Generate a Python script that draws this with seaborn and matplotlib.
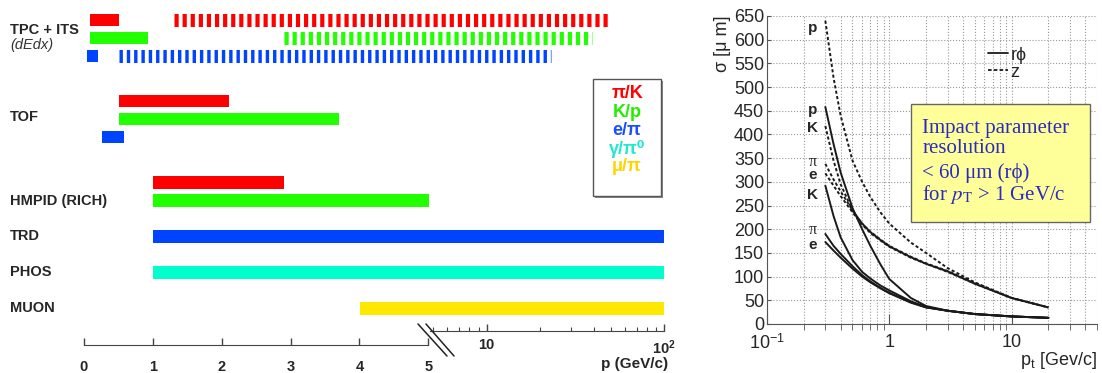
import numpy as np
import pandas as pd
import seaborn as sns
import matplotlib.pyplot as plt
from matplotlib.patches import Rectangle
from matplotlib.lines import Line2D
import matplotlib.transforms as mtransforms

# 左图：各探测器的粒子鉴别动量范围 (GeV/c)
detectors = ['TPC + ITS', 'TOF', 'HMPID (RICH)', 'TRD', 'PHOS', 'MUON']
pairs = ['π/K', 'K/p', 'e/π', 'γ/π⁰', 'μ/π']
bar_detector = ['TPC + ITS'] * 6 + ['TOF'] * 3 + ['HMPID (RICH)'] * 2 + ['TRD', 'PHOS', 'MUON']
bar_pair = ['π/K', 'π/K', 'K/p', 'K/p', 'e/π', 'e/π',
            'π/K', 'K/p', 'e/π',
            'π/K', 'K/p',
            'e/π', 'γ/π⁰', 'μ/π']
bar_pmin = [0.08, 1.3, 0.08, 2.9, 0.04, 0.5, 0.5, 0.5, 0.26, 1.0, 1.0, 1.0, 1.0, 4.0]
bar_pmax = [0.5, 48, 0.93, 39, 0.2, 23, 2.1, 3.7, 0.58, 2.9, 5.0, 100, 100, 100]
bar_dashed = [False, True, False, True, False, True,
              False, False, False, False, False, False, False, False]

# 右图：碰撞参数分辨率 σ (μm) vs pt (GeV/c)
pt = [0.3, 0.35, 0.4, 0.5, 0.6, 0.7, 0.85, 1.0, 1.5, 2, 3, 5, 10, 20]
rphi_p = [458, 380, 320, 245, 200, 165, 125, 95, 55, 38, 28, 21, 16, 13]
rphi_K = [292, 228, 183, 135, 110, 96, 81, 71, 48, 36, 28, 21, 16, 13]
rphi_pi = [190, 165, 148, 122, 103, 90, 76, 66, 46, 35, 28, 21, 16, 13]
rphi_e = [173, 155, 140, 117, 100, 88, 75, 65, 45, 35, 28, 21, 16, 13]
z_p = [640, 520, 440, 345, 300, 268, 235, 212, 172, 150, 118, 88, 55, 35]
z_K = [418, 345, 295, 240, 212, 195, 178, 165, 142, 128, 112, 86, 55, 35]
z_pi = [338, 305, 280, 240, 212, 194, 177, 164, 141, 127, 111, 85, 55, 35]
z_e = [318, 292, 270, 236, 210, 192, 176, 163, 140, 127, 110, 85, 55, 35]

# 样式
pair_colors = {'π/K': '#FF0000', 'K/p': '#22FF00', 'e/π': '#0044FF',
               'γ/π⁰': '#00FFCC', 'μ/π': '#FFE800'}
pair_text_colors = {'π/K': '#FF0000', 'K/p': '#22EE00', 'e/π': '#1A4FFF',
                    'γ/π⁰': '#22E8D0', 'μ/π': '#FFD400'}
bar_row = [0, 0, 1, 1, 2, 2, 4.5, 5.5, 6.5, 9.05, 10.05, 12.05, 14.05, 16.05]
label_row = {'TPC + ITS': 0.55, 'TOF': 5.4, 'HMPID (RICH)': 10.08,
             'TRD': 12.0, 'PHOS': 14.0, 'MUON': 16.0}

sns.set_style('white')
plt.rcParams['font.family'] = ['Liberation Sans', 'DejaVu Sans']
plt.rcParams['mathtext.fontset'] = 'stix'

W, H = 1102, 373
fig = plt.figure(figsize=(W / 100, H / 100), dpi=100)


def px_rect(x0, y0, x1, y1):
    return [x0 / W, 1 - y1 / H, (x1 - x0) / W, (y1 - y0) / H]


# 线性 0-5 加对数 5-100 的拼接坐标
PX_UNIT = 69.0
K_DEC = 177.6 / PX_UNIT
OFF = (433.2 - 84) / PX_UNIT


def fwd(x):
    x = np.asarray(x, float)
    lx = np.log10(np.clip(x, 1e-9, None))
    return np.where(x <= 5, x, OFF + K_DEC * (lx - np.log10(5)))


def inv(u):
    u = np.asarray(u, float)
    return np.where(u <= 5, u,
                    np.where(u < OFF, 5.0, 10 ** ((np.maximum(u, OFF) - OFF) / K_DEC + np.log10(5))))


ax = fig.add_axes(px_rect(84, 0, 664.3, 322))
ax.set_xscale('function', functions=(fwd, inv))
ax.set_xlim(0, 100)
ax.set_ylim(16.78, -1.111)
ax.axis('off')

for det, pr, lo, hi, dsh, r in zip(bar_detector, bar_pair, bar_pmin, bar_pmax, bar_dashed, bar_row):
    c = pair_colors[pr]
    if dsh:
        pat = (0, (0.26, 0.30)) if pr == 'e/π' else (0, (0.32, 0.30))
        lc = ax.hlines(r, lo, hi, colors=c, linewidth=9.4, linestyles=[pat])
        lc.set_capstyle('butt')
    else:
        ax.barh(r, hi - lo, left=lo, height=0.72, color=c, linewidth=0)

lab_tr = mtransforms.blended_transform_factory(fig.transFigure, ax.transData)
for det in detectors:
    ax.text(10 / W, label_row[det], det, transform=lab_tr, fontsize=10.5,
            fontweight='bold', va='center', ha='left')
ax.text(10 / W, 1.4, '(dEdx)', transform=lab_tr, fontsize=10.5,
        fontstyle='italic', va='center', ha='left', color='#333333')

# 粒子对图例框
fig.add_artist(Rectangle((595 / W, 1 - 198 / H), 68 / W, 117 / H, transform=fig.transFigure,
                         fc='#888888', ec='none'))
fig.add_artist(Rectangle((593 / W, 1 - 196 / H), 68 / W, 117 / H, transform=fig.transFigure,
                         fc='white', ec='#555555', lw=1))
for i, pr in enumerate(pairs):
    fig.text(627 / W, 1 - (94 + 18.2 * i) / H, pr, color=pair_text_colors[pr],
             fontsize=13, fontweight='bold', ha='center', va='center',
             family=['Liberation Sans', 'DejaVu Sans'])

# 底部坐标轴：线性段
ax_lin = fig.add_axes(px_rect(84, 335, 428.3, 345))
ax_lin.set_xlim(0, 5)
ax_lin.set_xticks(range(6))
ax_lin.set_yticks([])
for s in ['left', 'right', 'top']:
    ax_lin.spines[s].set_visible(False)
ax_lin.spines['bottom'].set_color('#444444')
ax_lin.patch.set_alpha(0)
ax_lin.tick_params(axis='x', direction='in', length=5, width=1, color='#444444',
                   pad=11, labelsize=10.5, bottom=True)
for t in ax_lin.get_xticklabels():
    t.set_fontweight('bold')

# 底部坐标轴：对数段
ax_log = fig.add_axes(px_rect(430, 321, 664.3, 331))
ax_log.set_xscale('log')
ax_log.set_xlim(10 ** (np.log10(5) + (430 - 433.2) / 177.6), 100)
ax_log.set_xticks([10, 100])
ax_log.set_xticklabels(['10', '10$^{\\mathregular{2}}$'])
ax_log.set_yticks([])
for s in ['left', 'right', 'top']:
    ax_log.spines[s].set_visible(False)
ax_log.spines['bottom'].set_color('#444444')
ax_log.patch.set_alpha(0)
ax_log.tick_params(axis='x', which='major', direction='in', length=5, width=1,
                   color='#444444', pad=5, labelsize=10.5, bottom=True)
ax_log.tick_params(axis='x', which='minor', direction='in', length=3, width=0.8,
                   color='#444444', labelbottom=False, bottom=True)
for t in ax_log.get_xticklabels():
    t.set_fontweight('bold')
fig.text(668 / W, 1 - 364 / H, 'p (GeV/c)', fontsize=11, fontweight='bold',
         ha='right', va='center')

# 断轴标记
for x0, x1 in [(418, 447), (426, 454)]:
    fig.add_artist(Line2D([x0 / W, x1 / W], [1 - 324 / H, 1 - 356 / H],
                          transform=fig.transFigure, color='#222222', lw=1.1))

# 右图
df = pd.concat([
    pd.DataFrame({'pt': pt, 'sigma': vals, 'particle': name, 'plane': plane})
    for name, plane, vals in [
        ('p', 'rϕ', rphi_p), ('K', 'rϕ', rphi_K), ('π', 'rϕ', rphi_pi), ('e', 'rϕ', rphi_e),
        ('p', 'z', z_p), ('K', 'z', z_K), ('π', 'z', z_pi), ('e', 'z', z_e)]
], ignore_index=True)
df['curve'] = df['particle'] + '_' + df['plane']

axr = fig.add_axes(px_rect(767, 16, 1097, 324))
sns.lineplot(data=df, x='pt', y='sigma', style='plane', units='curve', estimator=None,
             dashes={'rϕ': '', 'z': (1.6, 1.2)}, color='#1a1a1a', linewidth=1.4,
             legend=False, ax=axr)
axr.set_xscale('log')
axr.set_xlim(0.1, 50)
axr.set_ylim(0, 650)
axr.set_yticks(range(0, 651, 50))
axr.set_xticks([0.1, 1, 10])
axr.set_xticklabels(['10$^{\\mathregular{-1}}$', '1', '10'])
axr.grid(True, which='both', axis='x', ls=':', color='#999999', lw=0.8)
axr.grid(True, which='major', axis='y', ls=':', color='#999999', lw=0.8)
for s in ['top', 'right']:
    axr.spines[s].set_visible(False)
for s in ['left', 'bottom']:
    axr.spines[s].set_color('#555555')
axr.tick_params(axis='both', which='major', direction='in', labelsize=13, pad=3)
axr.tick_params(axis='x', which='major', length=7, color='#555555', bottom=True, pad=7)
axr.tick_params(axis='x', which='minor', length=4, color='#555555', bottom=True)
axr.tick_params(axis='y', which='major', length=3, color='#555555', left=True, pad=2)
axr.set_xlabel('$\\mathregular{p_t}$ [Gev/c]', fontsize=13, loc='right', labelpad=-2)
axr.set_ylabel('σ [μ m]', fontsize=13, loc='top', labelpad=2)

curve_label_text = ['p', 'p', 'K', 'π', 'e', 'K', 'π', 'e']
curve_label_y = [625, 452, 414, 342, 314, 272, 198, 167]
for txt, yv in zip(curve_label_text, curve_label_y):
    if txt == 'π':
        axr.text(0.235, yv, txt, fontsize=11.5, ha='center', va='center',
                 family=['Liberation Serif', 'DejaVu Serif'])
    else:
        axr.text(0.235, yv, txt, fontsize=11, fontweight='bold', ha='center', va='center')

handles = [Line2D([], [], color='#1a1a1a', lw=1.3),
           Line2D([], [], color='#1a1a1a', lw=1.3, ls=(0, (2, 1.2)))]
axr.legend(handles, ['rϕ', 'z'], loc='upper left', bbox_to_anchor=(0.67, 0.9),
           frameon=False, fontsize=13, handlelength=1.1, handletextpad=0.15,
           labelspacing=0.0, borderpad=0, borderaxespad=0)

axr.add_patch(Rectangle((0.436, 0.331), 0.543, 0.383, transform=axr.transAxes,
                        fc='#FFFF99', ec='#666666', lw=1, zorder=5))
box_lines = ['Impact parameter', 'resolution', '< 60 μm (rϕ)', 'for $p_{\\rm T}$ > 1 GeV/c']
box_y = [0.636, 0.571, 0.49, 0.419]
for txt, yv in zip(box_lines, box_y):
    axr.text(0.47, yv, txt, transform=axr.transAxes, fontsize=15, color='#2B2BC0',
             family=['Liberation Serif', 'DejaVu Serif'], va='center', ha='left', zorder=6)

fig.savefig('out.png', dpi=100)
